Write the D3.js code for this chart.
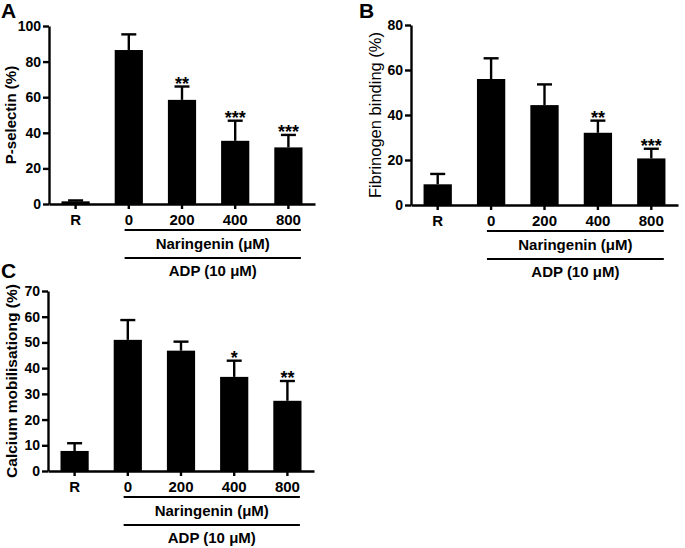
<!DOCTYPE html>
<html>
<head>
<meta charset="utf-8">
<script src="https://cdn.jsdelivr.net/npm/d3@7"></script>
<style>
    body { margin: 0; background: #fff; }
    svg { display: block; }
    text { font-family: Arial, "Liberation Sans", Helvetica, sans-serif; fill: #000; }
</style>
</head>
<body>
<svg id="chart" width="685" height="548"></svg>
<script>
// Data
const categories = ['R', '0', '200', '400', '800'];

const pselectinMean = [1.5, 86.5, 58.5, 35.5, 31.8],
    pselectinErr = [0.5, 8.8, 7.5, 11.3, 7.0],
    pselectinSig = ['', '', '**', '***', '***'];

const fibrinogenMean = [9.2, 56.0, 44.4, 32.1, 20.7],
    fibrinogenErr = [4.6, 9.2, 9.2, 5.4, 4.3],
    fibrinogenSig = ['', '', '', '**', '***'];

const calciumMean = [7.8, 51.0, 46.8, 36.6, 27.3],
    calciumErr = [3.0, 7.7, 3.5, 6.3, 7.7],
    calciumSig = ['', '', '', '*', '**'];

const treatmentLabel = 'Naringenin (μM)',
    agonistLabel = 'ADP (10 μM)';

/**
 * Visual configs.
 */
const capWidth = 15,
    strokeW = 2.4;

const svg = d3.select('#chart');

function drawPanel(cfg) {
    const g = svg.append('g').attr('class', 'panel');

    const x = d3.scaleBand()
        .domain(categories)
        .range([cfg.left, cfg.right])
        .paddingInner(0.47)
        .paddingOuter(0.235);

    const y = d3.scaleLinear()
        .domain([0, cfg.max])
        .range([cfg.bottom, cfg.top]);

    const rows = categories.map((c, i) => ({
        cat: c, mean: cfg.mean[i], err: cfg.err[i], sig: cfg.sig[i]
    }));

    // Error bars (upper only), drawn first so the bar covers the stem
    const eb = g.selectAll('.err').data(rows).enter().append('g').attr('class', 'err');
    eb.append('line')
        .attr('x1', d => x(d.cat) + x.bandwidth() / 2)
        .attr('x2', d => x(d.cat) + x.bandwidth() / 2)
        .attr('y1', d => y(d.mean))
        .attr('y2', d => y(d.mean + d.err))
        .attr('stroke', '#000').attr('stroke-width', strokeW);
    eb.append('line')
        .attr('x1', d => x(d.cat) + x.bandwidth() / 2 - capWidth / 2)
        .attr('x2', d => x(d.cat) + x.bandwidth() / 2 + capWidth / 2)
        .attr('y1', d => y(d.mean + d.err))
        .attr('y2', d => y(d.mean + d.err))
        .attr('stroke', '#000').attr('stroke-width', strokeW);

    // Bars
    g.selectAll('.bar').data(rows).enter().append('rect')
        .attr('class', 'bar')
        .attr('x', d => x(d.cat))
        .attr('width', x.bandwidth())
        .attr('y', d => y(d.mean))
        .attr('height', d => y(0) - y(d.mean))
        .attr('fill', '#000');

    // Significance stars
    g.selectAll('.sig').data(rows.filter(d => d.sig)).enter().append('text')
        .attr('class', 'sig')
        .attr('x', d => x(d.cat) + x.bandwidth() / 2)
        .attr('y', d => y(d.mean + d.err) + 3)
        .attr('text-anchor', 'middle')
        .style('font-size', '18px')
        .style('font-weight', 'bold')
        .text(d => d.sig);

    // Y axis
    const yAxis = g.append('g')
        .attr('transform', 'translate(' + cfg.left + ',0)')
        .call(d3.axisLeft(y).tickValues(d3.range(0, cfg.max + 0.01, cfg.step)).tickSize(6).tickPadding(2).tickSizeOuter(0));
    yAxis.select('.domain').attr('stroke-width', strokeW);
    yAxis.selectAll('.tick line').attr('stroke-width', strokeW);
    yAxis.selectAll('.tick text')
        .style('font-size', '14px').style('font-weight', 'bold')
        .style('font-family', 'Arial, "Liberation Sans", sans-serif');

    // X axis
    const xAxis = g.append('g')
        .attr('transform', 'translate(0,' + cfg.bottom + ')')
        .call(d3.axisBottom(x).tickSize(5).tickPadding(5).tickSizeOuter(0));
    xAxis.select('.domain').attr('stroke-width', strokeW);
    xAxis.selectAll('.tick line').attr('stroke-width', strokeW);
    xAxis.selectAll('.tick text').remove();

    const labels = g.selectAll('.xlabel').data(categories).enter().append('text')
        .attr('class', 'xlabel')
        .attr('x', d => x(d) + x.bandwidth() / 2)
        .attr('y', cfg.bottom + 21)
        .attr('text-anchor', 'middle')
        .style('font-size', '15px')
        .style('font-weight', 'bold')
        .text(d => d);

    // Grouping lines span from the left edge of "0" to the right edge of "800"
    const nodes = labels.nodes();
    const first = nodes[1].getBBox(),
        last = nodes[nodes.length - 1].getBBox();
    const lx1 = first.x, lx2 = last.x + last.width, lmid = (lx1 + lx2) / 2;

    [26, 54].forEach(off => {
        g.append('line')
            .attr('x1', lx1).attr('x2', lx2)
            .attr('y1', cfg.bottom + off).attr('y2', cfg.bottom + off)
            .attr('stroke', '#000').attr('stroke-width', 2);
    });

    g.append('text')
        .attr('x', lmid).attr('y', cfg.bottom + 45)
        .attr('text-anchor', 'middle')
        .style('font-size', '15px').style('font-weight', 'bold')
        .text(treatmentLabel);

    g.append('text')
        .attr('x', lmid).attr('y', cfg.bottom + 72)
        .attr('text-anchor', 'middle')
        .style('font-size', '15px').style('font-weight', 'bold')
        .text(agonistLabel);

    // Y title
    g.append('text')
        .attr('transform', 'translate(' + cfg.titleX + ',' + (cfg.top + cfg.bottom) / 2 + ') rotate(-90)')
        .attr('text-anchor', 'middle')
        .attr('dy', '0.35em')
        .style('font-size', cfg.titleSize)
        .style('font-weight', cfg.titleWeight)
        .text(cfg.title);

    // Panel letter
    g.append('text')
        .attr('x', cfg.letterX).attr('y', cfg.letterY)
        .style('font-size', '21px').style('font-weight', 'bold')
        .text(cfg.letter);
}

drawPanel({
    letter: 'A', letterX: 1, letterY: 18,
    left: 49, right: 315, top: 26, bottom: 204, max: 100, step: 20,
    mean: pselectinMean, err: pselectinErr, sig: pselectinSig,
    title: 'P-selectin (%)', titleX: 11, titleSize: '15px', titleWeight: 'bold'
});

drawPanel({
    letter: 'B', letterX: 359, letterY: 18,
    left: 411, right: 678, top: 25, bottom: 205, max: 80, step: 20,
    mean: fibrinogenMean, err: fibrinogenErr, sig: fibrinogenSig,
    title: 'Fibrinogen binding (%)', titleX: 375, titleSize: '16.5px', titleWeight: 'normal'
});

drawPanel({
    letter: 'C', letterX: 1, letterY: 278,
    left: 48, right: 314, top: 291, bottom: 471, max: 70, step: 10,
    mean: calciumMean, err: calciumErr, sig: calciumSig,
    title: 'Calcium mobilisationg (%)', titleX: 12, titleSize: '15.5px', titleWeight: 'bold'
});
</script>
</body>
</html>
